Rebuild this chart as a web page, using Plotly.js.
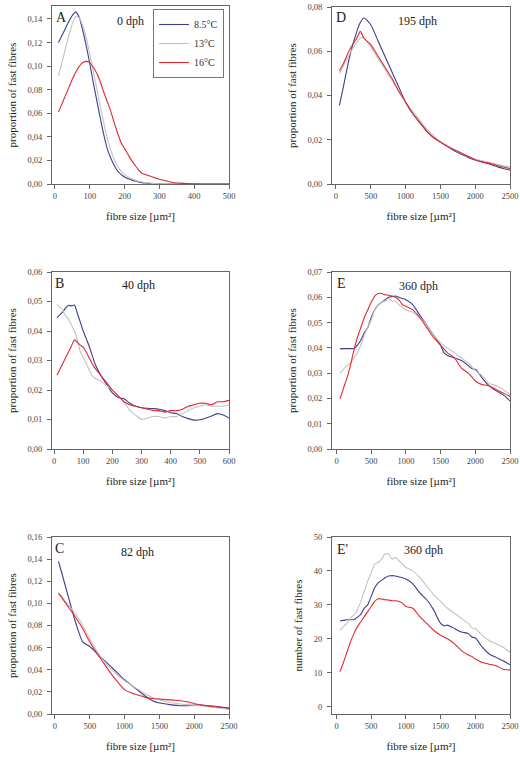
<!DOCTYPE html>
<html>
<head>
<meta charset="utf-8">
<script src="https://cdn.plot.ly/plotly-3.0.1.min.js"></script>
<style>html,body{margin:0;padding:0;background:#fff;}#chart{width:520px;height:758px;}</style>
</head>
<body>
<div id="chart"></div>
<script>
// ---------- DATA ----------
const seriesNames = ["8.5°C", "13°C", "16°C"];

// Panel A: 0 dph
const xA = [10,20,30,40,50,60,70,80,90,100,110,120,130,140,150,160,170,180,190,200,210,220,230,240,250,260,270,280,290,300,320,340,360,380,400,450,500];
const A_blue = [0.120,0.126,0.132,0.138,0.143,0.146,0.141,0.130,0.117,0.102,0.086,0.071,0.056,0.042,0.030,0.022,0.016,0.011,0.008,0.006,0.0045,0.0035,0.0025,0.0018,0.0012,0.0008,0.0005,0.0003,0.0002,0.0001,0,0,0,0,0,0,0];
const A_gray = [0.092,0.103,0.115,0.126,0.136,0.142,0.141,0.134,0.124,0.110,0.096,0.081,0.066,0.052,0.039,0.029,0.021,0.015,0.011,0.008,0.006,0.0045,0.0033,0.0024,0.0017,0.0012,0.0008,0.0005,0.0003,0.0002,0.0001,0,0,0,0,0,0];
const A_red  = [0.061,0.068,0.075,0.082,0.089,0.095,0.100,0.103,0.104,0.103,0.099,0.094,0.087,0.078,0.070,0.062,0.052,0.043,0.035,0.030,0.025,0.020,0.016,0.012,0.009,0.008,0.007,0.006,0.005,0.004,0.0025,0.0013,0.0007,0.0003,0.0001,0,0];

// Panel B: 40 dph
const xB = [10,20,30,40,50,60,70,80,90,100,110,120,130,140,160,180,200,220,240,260,280,300,320,340,360,380,400,420,440,460,480,500,520,540,560,580,600];
const B_blue = [0.0445,0.0455,0.0465,0.0478,0.0487,0.0485,0.0488,0.046,0.043,0.040,0.0375,0.035,0.032,0.029,0.025,0.022,0.019,0.0175,0.017,0.0155,0.0145,0.014,0.0138,0.0137,0.0135,0.013,0.0123,0.012,0.011,0.0103,0.0098,0.0099,0.0105,0.0112,0.0120,0.0115,0.0105];
const B_gray = [0.049,0.048,0.047,0.045,0.044,0.042,0.040,0.037,0.033,0.031,0.029,0.027,0.025,0.024,0.023,0.0215,0.020,0.018,0.016,0.013,0.0115,0.010,0.0105,0.011,0.011,0.0105,0.011,0.011,0.012,0.013,0.014,0.0145,0.015,0.0145,0.0145,0.0145,0.015];
const B_red  = [0.025,0.027,0.029,0.031,0.033,0.035,0.037,0.0362,0.0352,0.0345,0.033,0.031,0.029,0.0275,0.025,0.0225,0.020,0.018,0.016,0.015,0.0145,0.014,0.0135,0.013,0.013,0.0125,0.013,0.013,0.0135,0.0145,0.015,0.0155,0.0155,0.015,0.016,0.016,0.0165];

// Panel C: 82 dph
const xC = [50,100,200,300,400,500,600,700,800,900,1000,1100,1200,1300,1400,1500,1600,1700,1800,1900,2000,2100,2200,2300,2400,2500];
const C_blue = [0.138,0.127,0.104,0.082,0.065,0.061,0.055,0.049,0.043,0.037,0.031,0.026,0.021,0.016,0.012,0.010,0.009,0.008,0.0075,0.0075,0.008,0.008,0.0075,0.007,0.006,0.005];
const C_gray = [0.110,0.106,0.098,0.090,0.080,0.068,0.057,0.048,0.041,0.035,0.030,0.026,0.022,0.018,0.015,0.013,0.011,0.010,0.009,0.0085,0.008,0.0075,0.007,0.006,0.005,0.004];
const C_red  = [0.109,0.105,0.096,0.087,0.077,0.065,0.055,0.046,0.037,0.029,0.022,0.019,0.017,0.015,0.014,0.0135,0.013,0.0125,0.012,0.011,0.0095,0.008,0.007,0.0065,0.006,0.0055];

// Panel D: 195 dph
const xD = [50,100,200,300,350,400,500,600,700,800,900,1000,1100,1200,1300,1400,1500,1600,1700,1800,1900,2000,2100,2200,2300,2400,2500];
const D_blue = [0.0355,0.043,0.058,0.069,0.073,0.075,0.072,0.065,0.058,0.051,0.044,0.037,0.032,0.028,0.024,0.021,0.019,0.017,0.015,0.0135,0.012,0.0108,0.010,0.009,0.008,0.007,0.0063];
const D_gray = [0.050,0.053,0.059,0.064,0.066,0.066,0.062,0.057,0.052,0.047,0.042,0.037,0.033,0.029,0.025,0.022,0.019,0.0175,0.0155,0.014,0.0125,0.0112,0.0105,0.0098,0.009,0.0083,0.0077];
const D_red  = [0.0513,0.054,0.061,0.066,0.069,0.066,0.063,0.058,0.053,0.048,0.042,0.037,0.032,0.028,0.024,0.021,0.019,0.017,0.0155,0.014,0.0125,0.011,0.010,0.0095,0.0085,0.0077,0.007];

// Panel E: 360 dph (proportion)
const xE = [50,100,150,200,250,300,350,400,450,500,550,600,650,700,750,800,850,900,950,1000,1100,1200,1300,1400,1500,1550,1600,1700,1800,1900,1950,2000,2050,2100,2200,2300,2400,2500];
const E_blue = [0.0396,0.0397,0.0397,0.0397,0.0397,0.041,0.043,0.046,0.048,0.052,0.055,0.057,0.058,0.059,0.060,0.0603,0.0605,0.060,0.0595,0.059,0.057,0.053,0.049,0.045,0.041,0.038,0.037,0.036,0.035,0.033,0.0318,0.0315,0.030,0.028,0.025,0.023,0.0215,0.019];
const E_gray = [0.030,0.0315,0.033,0.034,0.036,0.038,0.041,0.045,0.048,0.051,0.055,0.057,0.058,0.0585,0.0595,0.0585,0.0585,0.057,0.056,0.055,0.054,0.052,0.049,0.045,0.042,0.041,0.040,0.038,0.036,0.034,0.0325,0.031,0.030,0.029,0.026,0.025,0.0235,0.0215];
const E_red  = [0.0198,0.024,0.028,0.033,0.039,0.044,0.048,0.052,0.055,0.058,0.0605,0.0615,0.0615,0.061,0.0608,0.0605,0.060,0.059,0.057,0.0565,0.055,0.052,0.048,0.044,0.041,0.0395,0.038,0.036,0.032,0.030,0.0285,0.027,0.026,0.0255,0.025,0.0235,0.0222,0.0208];

// Panel E': 360 dph (number)
const xE2 = [50,100,150,200,250,300,350,400,450,500,550,600,650,700,750,800,850,900,950,1000,1100,1200,1300,1400,1500,1550,1600,1700,1800,1900,1950,2000,2050,2100,2200,2300,2400,2500];
const E2_blue = [25.3,25.4,25.6,25.6,25.6,26.3,27.2,29.0,30.0,32.5,35.0,36.5,37.2,38.0,38.5,38.6,38.5,38.2,38.0,37.6,36.2,33.5,31.5,28.5,24.5,23.8,24.0,23.0,22.0,21.5,20.5,20.3,19.0,17.5,15.5,14.5,13.5,12.3];
const E2_gray = [22.5,23.5,24.5,26.0,27.0,28.5,31.0,34.0,37.0,39.5,42.0,42.5,43.5,45.0,45.0,43.5,44.0,43.0,42.0,41.0,40.0,38.0,35.5,33.0,31.0,30.0,29.0,27.5,26.0,24.5,23.2,23.0,22.0,21.0,19.5,18.5,17.5,16.0];
const E2_red  = [10.3,13.0,16.0,19.0,21.5,23.5,25.0,26.5,28.0,29.5,31.0,31.8,31.7,31.5,31.4,31.2,31.2,31.0,30.5,29.5,29.0,26.5,24.5,22.5,21.0,20.5,20.0,18.5,16.5,15.2,14.8,14.0,13.5,13.0,12.5,12.0,11.0,10.8];

const panelLetters = ["A","B","C","D","E","E'"];
const panelTitles = ["0 dph","40 dph","82 dph","195 dph","360 dph","360 dph"];
const xTickVals = [[0,100,200,300,400,500],[0,100,200,300,400,500,600],[0,500,1000,1500,2000,2500],[0,500,1000,1500,2000,2500],[0,500,1000,1500,2000,2500],[0,500,1000,1500,2000,2500]];
const yTickVals = [[0,0.02,0.04,0.06,0.08,0.10,0.12,0.14],[0,0.01,0.02,0.03,0.04,0.05,0.06],[0,0.02,0.04,0.06,0.08,0.10,0.12,0.14,0.16],[0,0.02,0.04,0.06,0.08],[0,0.01,0.02,0.03,0.04,0.05,0.06,0.07],[0,10,20,30,40,50]];
const yTitles = ["proportion of fast fibres","proportion of fast fibres","proportion of fast fibres","proportion of fast fibres","proportion of fast fibres","number of fast fibres"];
const xTitle = "fibre size [µm²]";

// ---------- LAYOUT ----------
const W = 520, H = 758;
const colors = ["#3b3f8e", "#c2c2c2", "#e4272e"];
const serif = "'Liberation Serif', 'Times New Roman', serif";
const panels = [
  {x: xA, ys: [A_blue, A_gray, A_red], px: [52,229], py: [6,184], xr: [-8.6,500], yr: [0,0.151]},
  {x: xB, ys: [B_blue, B_gray, B_red], px: [52,229], py: [272,449], xr: [-7,600], yr: [0,0.06]},
  {x: xC, ys: [C_blue, C_gray, C_red], px: [52,229], py: [537,714], xr: [-43,2500], yr: [0,0.16]},
  {x: xD, ys: [D_blue, D_gray, D_red], px: [332,510], py: [7,184], xr: [-57,2500], yr: [0,0.08]},
  {x: xE, ys: [E_blue, E_gray, E_red], px: [332,510], py: [272,449], xr: [-65,2500], yr: [0,0.07]},
  {x: xE2, ys: [E2_blue, E2_gray, E2_red], px: [332,510], py: [537,714], xr: [-65,2500], yr: [-2.2,50]}
];

const data = [];
const layout = {
  width: W, height: H,
  margin: {l:0, r:0, t:0, b:0},
  paper_bgcolor: "#fff", plot_bgcolor: "#fff",
  separators: ",.",
  font: {family: serif, color: "#222"},
  showlegend: true,
  legend: {
    x: 153/W, y: 1 - 9/H, xanchor: "left", yanchor: "top",
    bordercolor: "#777", borderwidth: 1, bgcolor: "#fff",
    font: {family: serif, size: 10, color: "#333"},
    itemwidth: 30, tracegroupgap: 0
  },
  annotations: [],
  shapes: []
};

const letterPos = [[61,17],[59,283],[59,548],[341,17],[341,283],[342,549]];
const titlePos = [[130,21],[138,285],[137,552],[417,21],[418,286],[423,550]];

panels.forEach((p, i) => {
  const n = i + 1;
  const xa = "x" + (n === 1 ? "" : n), ya = "y" + (n === 1 ? "" : n);
  p.ys.forEach((y, k) => {
    data.push({
      type: "scatter", mode: "lines", x: p.x, y: y,
      xaxis: xa, yaxis: ya, name: seriesNames[k],
      showlegend: i === 0,
      line: {color: colors[k], width: 1.1, shape: "spline", smoothing: 0.6},
      hoverinfo: "skip"
    });
  });
  const axCommon = {
    showline: true, mirror: true, linecolor: "#666", linewidth: 1,
    ticks: "outside", ticklen: 4, tickcolor: "#666", tickwidth: 1,
    showgrid: false, zeroline: false,
    tickfont: {family: serif, size: 8.5, color: "#444"}
  };
  layout["xaxis" + (n === 1 ? "" : n)] = Object.assign({}, axCommon, {
    domain: [p.px[0]/W, p.px[1]/W], range: p.xr, anchor: ya,
    tickvals: xTickVals[i], tickformat: "d",
    title: {text: xTitle, font: {family: serif, size: 11, color: "#222"}, standoff: 12}
  });
  layout["yaxis" + (n === 1 ? "" : n)] = Object.assign({}, axCommon, {
    domain: [1 - p.py[1]/H, 1 - p.py[0]/H], range: p.yr, anchor: xa,
    tickvals: yTickVals[i], tickformat: i === 5 ? "d" : ".2f",
    ticklabelstandoff: 3,
    title: {text: yTitles[i], font: {family: serif, size: 11, color: "#222"}, standoff: 8}
  });
  layout.annotations.push({
    xref: "paper", yref: "paper", x: letterPos[i][0]/W, y: 1 - letterPos[i][1]/H,
    text: panelLetters[i], showarrow: false, xanchor: "center", yanchor: "middle",
    font: {family: serif, size: 14, color: "#222"}
  });
  layout.annotations.push({
    xref: "paper", yref: "paper", x: titlePos[i][0]/W, y: 1 - titlePos[i][1]/H,
    text: panelTitles[i], showarrow: false, xanchor: "center", yanchor: "middle",
    font: {family: serif, size: 12, color: "#222"}
  });
});

Plotly.newPlot("chart", data, layout, {staticPlot: true, displayModeBar: false});
</script>
</body>
</html>
